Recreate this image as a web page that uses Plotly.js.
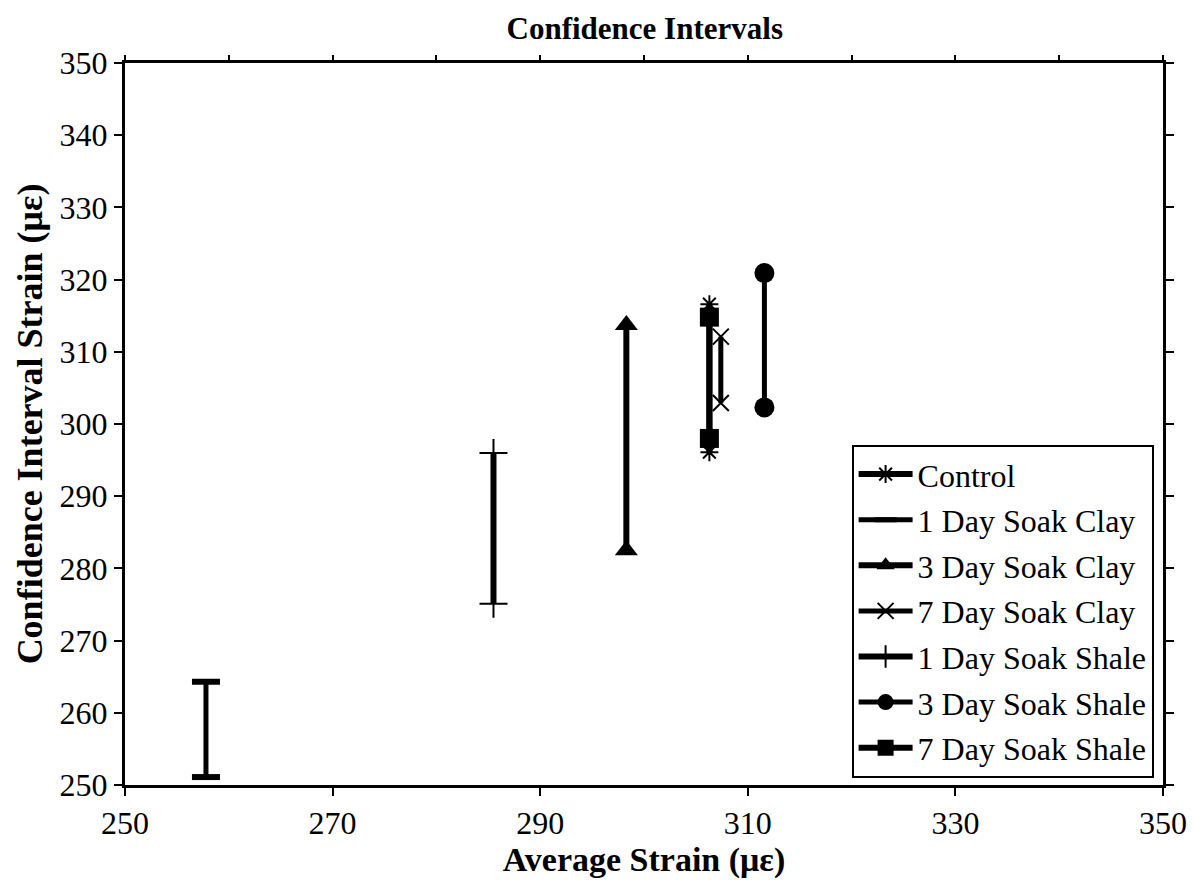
<!DOCTYPE html>
<html>
<head>
<meta charset="utf-8">
<script src="https://cdn.plot.ly/plotly-3.0.1.min.js"></script>
<style>html,body{margin:0;padding:0;background:#fff;}#chart{width:1194px;height:886px;}</style>
</head>
<body>
<div id="chart"></div>
<script>
const seriesNames = ["Control", "1 Day Soak Clay", "3 Day Soak Clay", "7 Day Soak Clay", "1 Day Soak Shale", "3 Day Soak Shale", "7 Day Soak Shale"];
const averageStrain = [306.3, 257.8, 298.3, 307.4, 285.5, 311.6, 306.3];
const lowerBound = [296.1, 251.1, 282.5, 302.9, 275.1, 302.3, 298.0];
const upperBound = [316.6, 264.3, 313.7, 312.1, 296.0, 320.9, 314.8];
const xTicks = [250, 270, 290, 310, 330, 350];
const yTicks = [250, 260, 270, 280, 290, 300, 310, 320, 330, 340, 350];

const markerStyles = [
  {symbol: "asterisk", size: 15, line: {color: "#000", width: 2}},
  {symbol: "line-ew", size: 20, line: {color: "#000", width: 6}},
  {symbol: "triangle-up", size: 20, color: "#000", line: {width: 0}},
  {symbol: "x-thin", size: 16, line: {color: "#000", width: 2}},
  {symbol: "cross-thin", size: 20, line: {color: "#000", width: 2}},
  {symbol: "circle", size: 20, color: "#000", line: {width: 0}},
  {symbol: "square", size: 19, color: "#000", line: {width: 0}}
];
const lineWidths = [6, 5, 6, 5, 6, 5, 6];

const traces = seriesNames.map((name, i) => ({
  type: "scatter",
  mode: "lines+markers",
  name: name,
  legendgroup: "g" + i,
  x: [averageStrain[i], averageStrain[i]],
  y: [lowerBound[i], upperBound[i]],
  line: {color: "#000", width: lineWidths[i]},
  marker: Object.assign({color: "#000"}, markerStyles[i]),
  xaxis: "x", yaxis: "y"
}));
// helper trace to activate the top axis (ticks every 10)
traces.push({type: "scatter", mode: "markers", x: [250], y: [250], xaxis: "x2", yaxis: "y",
  marker: {opacity: 0}, showlegend: false, hoverinfo: "skip"});

const fontFamily = "Liberation Serif, Times New Roman, serif";
const layout = {
  width: 1194, height: 886,
  paper_bgcolor: "#fff", plot_bgcolor: "#fff",
  margin: {l: 125, r: 31, t: 63, b: 101},
  font: {family: fontFamily, color: "#000", size: 32},
  title: {text: "Confidence Intervals", font: {family: fontFamily, size: 31, weight: "bold", color: "#000"}, x: 0.54, xanchor: "center", y: 0.968, yanchor: "middle"},
  xaxis: {
    range: [250, 350], tickvals: xTicks, ticktext: xTicks.map(String),
    showgrid: false, zeroline: false, showline: true, linecolor: "#000", linewidth: 3,
    mirror: true, ticks: "outside", ticklen: 8, tickwidth: 2, tickcolor: "#000",
    tickfont: {family: fontFamily, size: 32, color: "#000"},
    title: {text: "Average Strain (με)", font: {family: fontFamily, size: 34, weight: "bold", color: "#000"}, standoff: 4}
  },
  xaxis2: {
    overlaying: "x", side: "top", range: [250, 350], dtick: 10, tick0: 250,
    showgrid: false, zeroline: false, showline: false, showticklabels: false,
    ticks: "outside", ticklen: 7, tickwidth: 2, tickcolor: "#000"
  },
  yaxis: {
    range: [250, 350], tickvals: yTicks, ticktext: yTicks.map(String),
    showgrid: false, zeroline: false, showline: true, linecolor: "#000", linewidth: 3,
    mirror: "ticks", ticks: "outside", ticklen: 8, tickwidth: 2, tickcolor: "#000",
    tickfont: {family: fontFamily, size: 32, color: "#000"},
    title: {text: "Confidence Interval Strain (με)", font: {family: fontFamily, size: 36, weight: "bold", color: "#000"}, standoff: 6}
  },
  legend: {
    x: 0.70, y: 0.01, xanchor: "left", yanchor: "bottom",
    bgcolor: "#fff", bordercolor: "#000", borderwidth: 2,
    font: {family: fontFamily, size: 32, color: "#000"},
    traceorder: "grouped", tracegroupgap: 1, itemwidth: 54
  },
  showlegend: true
};

Plotly.newPlot("chart", traces, layout, {displayModeBar: false, staticPlot: true});
</script>
</body>
</html>
